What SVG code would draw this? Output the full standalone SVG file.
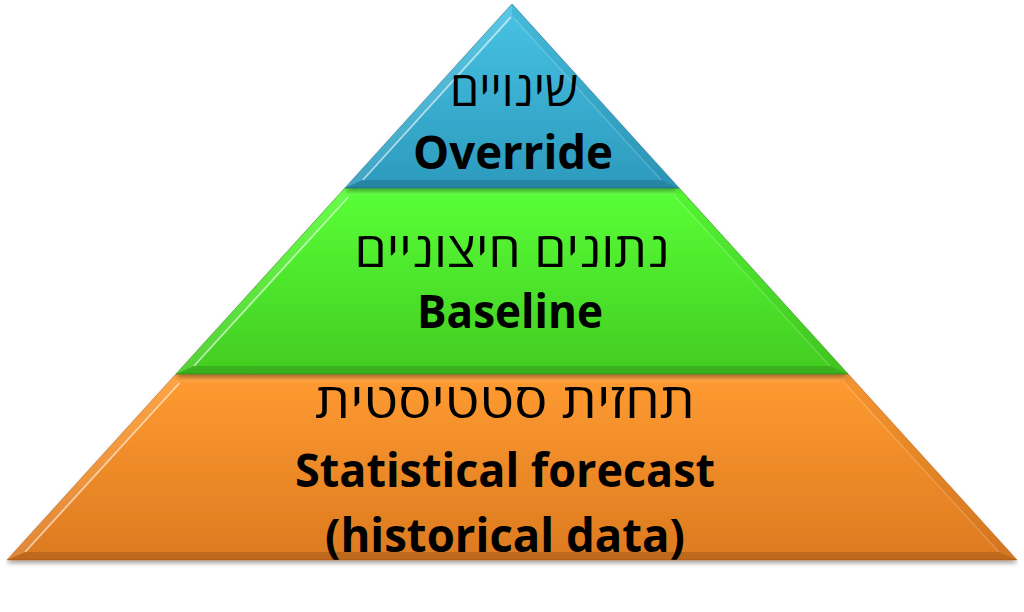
<svg xmlns="http://www.w3.org/2000/svg" width="1024" height="612" viewBox="0 0 1024 612">
  <defs>
    <linearGradient id="gBlue" x1="0" y1="0" x2="0" y2="1">
      <stop offset="0" stop-color="#48c3e4"/>
      <stop offset="1" stop-color="#2c9abd"/>
    </linearGradient>
    <linearGradient id="gGreen" x1="0" y1="0" x2="0" y2="1">
      <stop offset="0" stop-color="#58ff36"/>
      <stop offset="1" stop-color="#43cc22"/>
    </linearGradient>
    <linearGradient id="gOrange" x1="0" y1="0" x2="0" y2="1">
      <stop offset="0" stop-color="#ff9b31"/>
      <stop offset="1" stop-color="#dc7a20"/>
    </linearGradient>
    <filter id="shadow" x="-5%" y="-5%" width="110%" height="115%">
      <feDropShadow dx="0" dy="3" stdDeviation="2" flood-color="#000" flood-opacity="0.35"/>
    </filter>
  </defs>
  <style>
    .light { fill: #ffffff; fill-opacity: 0.10; }
    .lightTop { fill: #ffffff; fill-opacity: 0.08; }
    .dark { fill: #000000; fill-opacity: 0.04; }
    .darkBottom { fill: #000000; fill-opacity: 0.14; }
    .hl { stroke: #ffffff; stroke-opacity: 0.6; stroke-width: 1.8; fill: none; }
    .hr { stroke: #ffffff; stroke-opacity: 0.2; stroke-width: 1.2; fill: none; }
    .edge { stroke-opacity: 0.6; stroke-width: 1; }
    .en { font-family: "Open Sans", "Liberation Sans", sans-serif; font-weight: bold; font-size: 46px; fill: #000; text-anchor: middle; }
    .he { font-family: "Open Sans", "DejaVu Sans", "Liberation Sans", sans-serif; font-weight: 500; font-size: 48px; fill: #000; text-anchor: middle; }
  </style>

  <g id="tier-bottom">
    <polygon points="176,374 848,374 1017,560 7,560" fill="url(#gOrange)" stroke="#b8631a" class="edge" filter="url(#shadow)"/>
    <polygon class="lightTop" points="176,374 848,374 844.5,382 179.5,382"/>
    <polygon class="light" points="176,374 179.5,382 25.1,552 7,560"/>
    <polygon class="dark" points="848,374 1017,560 998.9,552 844.5,382"/>
    <polygon class="darkBottom" points="25.1,552 998.9,552 1017,560 7,560"/>
    <line class="hl" x1="179.5" y1="383" x2="25.1" y2="552"/>
    <line class="hr" x1="844.5" y1="383" x2="998.9" y2="552"/>
    <text class="he" x="505" y="418" textLength="380" lengthAdjust="spacingAndGlyphs">תחזית סטטיסטית</text>
    <text class="en" x="505" y="487" textLength="420" lengthAdjust="spacingAndGlyphs">Statistical forecast</text>
    <text class="en" x="505" y="552" textLength="360" lengthAdjust="spacingAndGlyphs">(historical data)</text>
  </g>

  <g id="tier-middle">
    <polygon points="345,188 679,188 848,374 176,374" fill="url(#gGreen)" stroke="#2f8f18" class="edge" filter="url(#shadow)"/>
    <polygon class="lightTop" points="345,188 679,188 675.6,196 348.4,196"/>
    <polygon class="light" points="345,188 348.4,196 194,366 176,374"/>
    <polygon class="dark" points="679,188 848,374 830,366 675.6,196"/>
    <polygon class="darkBottom" points="194,366 830,366 848,374 176,374"/>
    <line class="hl" x1="348.4" y1="197" x2="194" y2="366"/>
    <line class="hr" x1="675.6" y1="197" x2="830" y2="366"/>
    <text class="he" x="512" y="267" textLength="315" lengthAdjust="spacingAndGlyphs">נתונים חיצוניים</text>
    <text class="en" x="510" y="328" textLength="186" lengthAdjust="spacingAndGlyphs">Baseline</text>
  </g>

  <g id="tier-top">
    <polygon points="512,4 679,188 345,188" fill="url(#gBlue)" stroke="#1f7390" class="edge" filter="url(#shadow)"/>
    <polygon class="light" points="512,4 512,16 362.9,180 345,188"/>
    <polygon class="dark" points="512,4 679,188 661.1,180 512,16"/>
    <polygon class="darkBottom" points="362.9,180 661.1,180 679,188 345,188"/>
    <line class="hl" x1="511" y1="17" x2="362.9" y2="180"/>
    <line class="hr" x1="513" y1="17" x2="661.1" y2="180"/>
    <text class="he" x="514" y="106" textLength="128" lengthAdjust="spacingAndGlyphs">שינויים</text>
    <text class="en" x="513" y="169" textLength="200" lengthAdjust="spacingAndGlyphs">Override</text>
  </g>
</svg>
